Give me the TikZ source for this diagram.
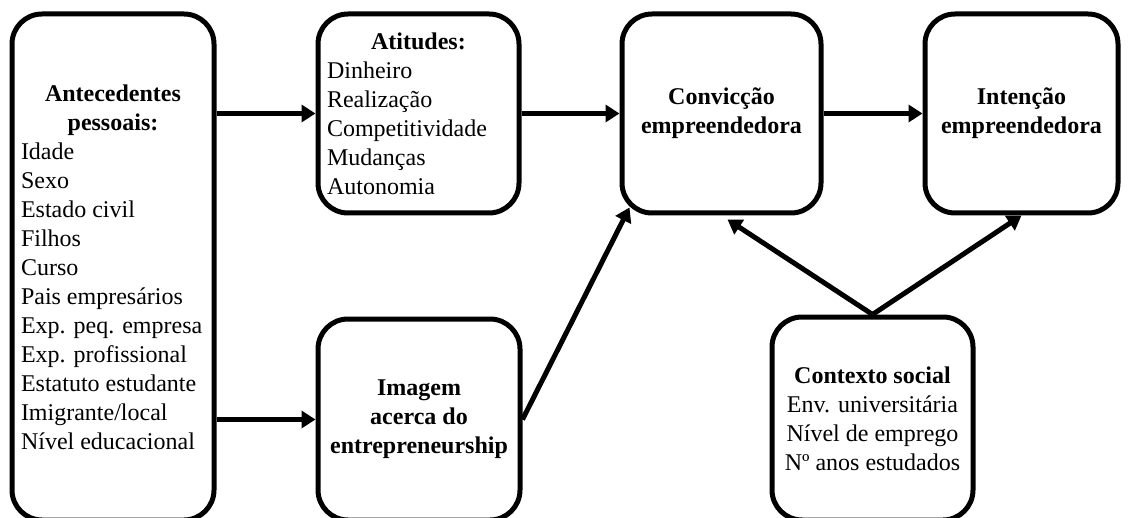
\documentclass[tikz,border=0pt]{standalone}
\usepackage{fontspec}
\setmainfont{Liberation Serif}
\usetikzlibrary{arrows.meta,positioning,calc}

\begin{document}
\begin{tikzpicture}[x=0.5pt, y=-0.5pt, >={Triangle[length=7pt,width=8.5pt]}, line width=2.5pt,
    box/.style={draw, rounded corners=15pt, inner sep=4.5pt, font=\fontsize{12}{14.5}\selectfont},
    listbox/.style={box, align=flush left, text width=#1},
    link/.style={->}]
    \useasboundingbox (0,0) rectangle (1129,518);

    \node[listbox=92pt, minimum width=101pt, minimum height=253pt] (ante) at (113,267)
        {\makebox[\linewidth]{\bfseries Antecedentes}\\
         \makebox[\linewidth]{\bfseries pessoais:}\\
         Idade\\ Sexo\\ Estado civil\\ Filhos\\ Curso\\ Pais empresários\\
         Exp. peq. empresa\\ Exp. profissional\\ Estatuto estudante\\
         Imigrante/local\\ Nível educacional};
    \node[listbox=91.5pt, minimum width=100.5pt, minimum height=99.5pt] (atit) at (418.5,113.5)
        {\makebox[\linewidth]{\bfseries Atitudes:}\\
         Dinheiro\\ Realização\\ Competitividade\\ Mudanças\\ Autonomia};
    \node[box, align=center, minimum width=99.5pt, minimum height=99.5pt] (conv) at (721.5,113.5)
        {\bfseries Convicção\\ \bfseries empreendedora};
    \node[box, align=center, minimum width=96.5pt, minimum height=99.5pt] (inte) at (1021.5,113.5)
        {\bfseries Intenção\\ \bfseries empreendedora};
    \node[box, align=center, minimum width=101pt, minimum height=100.5pt] (imag) at (419,419.5)
        {\bfseries Imagem\\ \bfseries acerca do\\ \bfseries entrepreneurship};
    \node[box, align=center, minimum width=100.5pt, minimum height=101.5pt] (cont) at (872.5,418.5)
        {\textbf{Contexto social}\\ Env. universitária\\ Nível de emprego\\ Nº anos estudados};

    % ligações
    \draw[link] (ante.east |- atit.west) -- (atit.west);
    \draw[link] (ante.east |- imag.west) -- (imag.west);
    \draw[link] (atit) -- (conv);
    \draw[link] (conv) -- (inte);
    \draw[link] (imag.east) -- ($(conv.south west)+(10,-8)$);
    \draw[link] (cont.north) -- ($(conv.south)+(6,4)$);
    \draw[link] (cont.north) -- (inte.south);
\end{tikzpicture}
\end{document}
